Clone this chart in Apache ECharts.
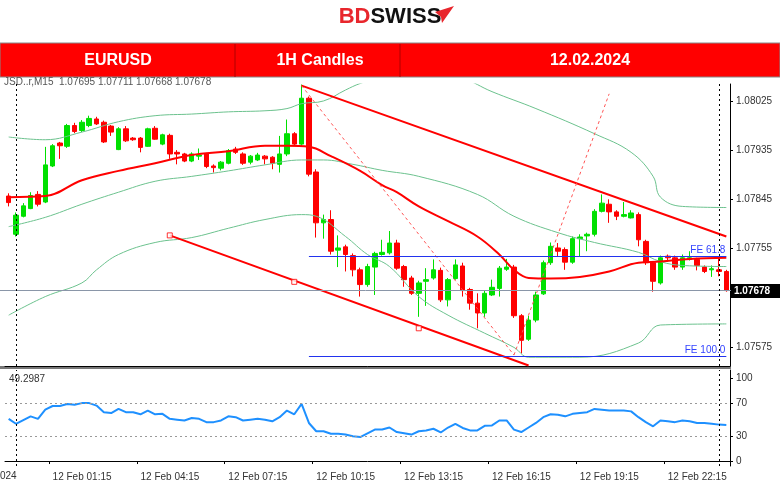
<!DOCTYPE html>
<html>
<head>
<meta charset="utf-8">
<script src="https://cdn.jsdelivr.net/npm/echarts@6/dist/echarts.min.js"></script>
<style>
  html, body { margin: 0; padding: 0; background: #fff; }
  #chart { width: 780px; height: 490px; }
</style>
</head>
<body>
<div id="chart"></div>
<script>
// EURUSD M15, 12 Feb 2024 — bars start 23:45 of the previous day
// [open, close, low, high]
const candles = [
  [1.07851,1.07839,1.07832,1.07856],[1.07781,1.07816,1.07777,1.07821],[1.07814,1.07833,1.07812,1.07838],
  [1.07828,1.07852,1.07827,1.07858],[1.07854,1.07836,1.07832,1.07860],[1.07840,1.07908,1.07838,1.07941],
  [1.07906,1.07943,1.07904,1.07946],[1.07948,1.07943,1.07919,1.07950],[1.07942,1.07980,1.07939,1.07983],
  [1.07980,1.07969,1.07966,1.07985],[1.07971,1.07986,1.07968,1.07990],[1.07980,1.07993,1.07977,1.07998],
  [1.07992,1.07983,1.07981,1.07996],[1.07986,1.07950,1.07948,1.07989],[1.07979,1.07968,1.07961,1.07981],
  [1.07936,1.07974,1.07935,1.07977],[1.07974,1.07952,1.07950,1.07979],[1.07957,1.07954,1.07952,1.07959],
  [1.07957,1.07940,1.07931,1.07959],[1.07942,1.07974,1.07941,1.07976],[1.07975,1.07955,1.07954,1.07979],
  [1.07946,1.07963,1.07944,1.07965],[1.07962,1.07928,1.07919,1.07965],[1.07931,1.07928,1.07909,1.07935],
  [1.07928,1.07915,1.07913,1.07930],[1.07915,1.07928,1.07913,1.07931],[1.07924,1.07926,1.07917,1.07938],
  [1.07928,1.07905,1.07902,1.07930],[1.07906,1.07903,1.07894,1.07909],[1.07902,1.07913,1.07898,1.07915],
  [1.07911,1.07934,1.07909,1.07937],[1.07937,1.07931,1.07928,1.07941],[1.07928,1.07911,1.07908,1.07931],
  [1.07913,1.07924,1.07909,1.07926],[1.07917,1.07926,1.07915,1.07930],[1.07924,1.07919,1.07909,1.07926],
  [1.07922,1.07911,1.07900,1.07924],[1.07909,1.07928,1.07894,1.07961],[1.07928,1.07965,1.07924,1.07991],
  [1.07965,1.07946,1.07943,1.07968],[1.07946,1.08030,1.07943,1.08055],[1.08030,1.07891,1.07887,1.08033],
  [1.07895,1.07802,1.07775,1.07900],[1.07802,1.07808,1.07773,1.07817],[1.07808,1.07750,1.07744,1.07825],
  [1.07752,1.07756,1.07721,1.07779],[1.07758,1.07744,1.07713,1.07762],[1.07742,1.07716,1.07704,1.07746],
  [1.07716,1.07689,1.07667,1.07720],[1.07689,1.07722,1.07685,1.07727],[1.07721,1.07746,1.07670,1.07749],
  [1.07744,1.07748,1.07742,1.07771],[1.07747,1.07765,1.07744,1.07787],[1.07765,1.07719,1.07716,1.07771],
  [1.07722,1.07698,1.07685,1.07725],[1.07701,1.07673,1.07670,1.07705],[1.07673,1.07692,1.07630,1.07696],
  [1.07695,1.07698,1.07650,1.07719],[1.07701,1.07716,1.07698,1.07735],[1.07715,1.07661,1.07657,1.07720],
  [1.07661,1.07698,1.07649,1.07701],[1.07700,1.07725,1.07698,1.07735],[1.07723,1.07678,1.07667,1.07729],
  [1.07680,1.07655,1.07643,1.07683],[1.07655,1.07637,1.07609,1.07673],[1.07637,1.07673,1.07630,1.07678],
  [1.07670,1.07684,1.07668,1.07698],[1.07682,1.07719,1.07667,1.07723],[1.07717,1.07721,1.07714,1.07736],
  [1.07721,1.07632,1.07628,1.07725],[1.07632,1.07587,1.07563,1.07635],[1.07589,1.07624,1.07586,1.07632],
  [1.07624,1.07670,1.07620,1.07676],[1.07672,1.07729,1.07670,1.07733],[1.07729,1.07759,1.07725,1.07766],
  [1.07756,1.07750,1.07741,1.07765],[1.07753,1.07730,1.07716,1.07757],[1.07730,1.07773,1.07727,1.07777],
  [1.07773,1.07776,1.07740,1.07781],[1.07778,1.07781,1.07750,1.07784],[1.07781,1.07823,1.07777,1.07827],
  [1.07823,1.07838,1.07821,1.07854],[1.07836,1.07822,1.07802,1.07845],[1.07822,1.07814,1.07807,1.07825],
  [1.07814,1.07817,1.07812,1.07840],[1.07811,1.07820,1.07810,1.07825],[1.07817,1.07771,1.07759,1.07821],
  [1.07768,1.07729,1.07725,1.07771],[1.07729,1.07695,1.07676,1.07731],[1.07692,1.07738,1.07689,1.07742],
  [1.07741,1.07738,1.07731,1.07744],[1.07738,1.07721,1.07716,1.07742],[1.07721,1.07738,1.07716,1.07744],
  [1.07735,1.07738,1.07733,1.07750],[1.07735,1.07724,1.07715,1.07738],[1.07721,1.07713,1.07710,1.07724],
  [1.07716,1.07718,1.07703,1.07724],[1.07716,1.07713,1.07704,1.07739],[1.07713,1.07678,1.07676,1.07716]
];

// indicator lines: [bar index, price]
const maLine = [[0,1.07849],[5,1.07851],[10,1.07880],[15,1.07897],[20,1.07911],[25,1.07926],[30,1.07933],
  [35,1.07943],[38,1.07943],[41,1.07941],[44,1.07924],[48,1.07897],[51,1.07871],[53,1.07858],[56,1.07832],
  [60,1.07805],[64,1.07777],[67,1.07744],[69,1.07716],[71,1.07701],[74,1.07700],[78,1.07703],[82,1.07713],
  [86,1.07729],[89,1.07731],[93,1.07736],[98,1.07738]];
const bandUpper = [[0,1.07959],[5,1.07954],[10,1.07968],[15,1.07987],[20,1.07998],[25,1.08001],[30,1.08005],
  [35,1.08007],[38,1.08011],[40,1.08020],[43,1.08025],[46,1.08045],[48,1.08057],[51,1.08069],[56,1.08081],
  [62,1.08066],[66,1.08042],[72,1.08011],[80,1.07965],[85,1.07931],[88,1.07887],[89,1.07849],[92,1.07832],[98,1.07830]];
const bandMid = [[0,1.07795],[5,1.07812],[10,1.07836],[15,1.07858],[20,1.07878],[25,1.07887],[30,1.07897],
  [35,1.07908],[40,1.07917],[43,1.07917],[47,1.07909],[51,1.07898],[56,1.07887],[64,1.07854],[69,1.07814],
  [75,1.07784],[80,1.07766],[86,1.07748],[89,1.07731],[92,1.07724],[98,1.07722]];
const bandLower = [[0,1.07633],[5,1.07667],[10,1.07692],[12,1.07716],[15,1.07744],[20,1.07766],[25,1.07775],
  [30,1.07792],[35,1.07808],[40,1.07817],[42,1.07814],[46,1.07777],[49,1.07744],[52,1.07722],[56,1.07667],
  [60,1.07633],[65,1.07600],[69,1.07574],[71,1.07556],[78,1.07556],[86,1.07582],[89,1.07615],[98,1.07617]];

// drawing objects
const channelTop = [[40,1.08053],[98,1.07777]];
const channelBottom = [[22,1.07779],[71,1.07541]];
const channelPoints = [[22,1.07779],[39,1.07694],[56,1.07609]];
const fiboPath1 = [[40,1.08053],[69,1.07560]];
const fiboPath2 = [[69,1.07560],[82,1.08038]];
const fe618 = 1.07740, fe100 = 1.07558, lastPrice = 1.07678;

const rsi = [51,45,49.5,54,51,62,66.5,66.5,69,68,70,70,67,59,58,63,59,59,56.5,61,56.5,57,51,50,49,52,51,47,47,49,
  54,53,49,50,51,50,48,53,61,56.5,69,46,36,36,33,33,32,30,29,33.5,38,38,40.5,35,33.5,32,36,37,39,34.5,
  40.5,45,40,37,37,42.5,43,49,49,38,35,40.5,46,53,56.5,56,54,57,58,59,63,62,61,61,61,60,53,47,42,49,
  48,47,49,48,46,46,45,44,43.5];

const priceTicks = [1.08025, 1.07935, 1.07845, 1.07755, 1.07575];
const rsiTicks = [0, 30, 70, 100];
const tickLabels = {6:'12 Feb 01:15',18:'12 Feb 04:15',30:'12 Feb 07:15',42:'12 Feb 10:15',
  54:'12 Feb 13:15',66:'12 Feb 16:15',78:'12 Feb 19:15',90:'12 Feb 22:15'};

const cats = candles.map((c, i) => String(i));

const chart = echarts.init(document.getElementById('chart'));
const RED = '#ff0000', GREEN = '#00e000', BAND = '#6cc28e';
const dash = { type: [2, 3], color: '#000', width: 1 };

chart.setOption({
  animation: false,
  textStyle: { fontFamily: 'Arial, "Liberation Sans", sans-serif' },
  grid: [
    { left: 5, right: 50, top: 84, height: 282 },
    { left: 5, right: 50, top: 370, height: 96 }
  ],
  graphic: [
    { type: 'text', left: 'center', top: 6, style: { text: '{a|BD}{b|SWISS}', rich: {
      a: { fill: '#e8262c', font: 'bold 22px Arial' }, b: { fill: '#111', font: 'bold 22px Arial' } } } },
    { type: 'polygon', shape: { points: [[435,12],[454,6],[442,23],[441,17]] }, style: { fill: '#e8262c' } },
    { type: 'rect', shape: { x: 0, y: 43, width: 780, height: 34 }, style: { fill: '#ff0000', stroke: '#888', lineWidth: 1 } },
    { type: 'line', shape: { x1: 400, y1: 44, x2: 400, y2: 77 }, style: { stroke: '#b00000', lineWidth: 1 } },
    { type: 'line', shape: { x1: 235, y1: 44, x2: 235, y2: 77 }, style: { stroke: '#b00000', lineWidth: 1 } },
    { type: 'text', x: 118, y: 61, style: { text: 'EURUSD', fill: '#fff', font: 'bold 16px Arial', align: 'center', verticalAlign: 'middle' } },
    { type: 'text', x: 320, y: 61, style: { text: '1H Candles', fill: '#fff', font: 'bold 16px Arial', align: 'center', verticalAlign: 'middle' } },
    { type: 'text', x: 590, y: 61, style: { text: '12.02.2024', fill: '#fff', font: 'bold 16px Arial', align: 'center', verticalAlign: 'middle' } },
    { type: 'text', x: 4, y: 77, style: { text: 'JSD..r,M15  1.07695 1.07711 1.07668 1.07678', fill: '#555', font: '10px Arial' } },
    { type: 'text', x: 9, y: 374, style: { text: '49.2987', fill: '#333', font: '10px Arial' } },
    { type: 'text', x: 0, y: 471, style: { text: '024', fill: '#333', font: '10px Arial' } },
    { type: 'rect', shape: { x: 0, y: 366, width: 731, height: 3 }, style: { fill: '#777' } },
    { type: 'rect', shape: { x: 731, y: 284, width: 49, height: 14 }, style: { fill: '#000' } },
    { type: 'text', x: 734, y: 291, style: { text: '1.07678', fill: '#fff', font: 'bold 10px Arial', verticalAlign: 'middle' } }
  ],
  xAxis: [
    { type: 'category', gridIndex: 0, data: cats, boundaryGap: true,
      axisLine: { lineStyle: { color: '#000' } }, axisTick: { show: false }, axisLabel: { show: false } },
    { type: 'category', gridIndex: 1, data: cats, boundaryGap: true,
      axisLine: { lineStyle: { color: '#000' } },
      axisTick: { show: true, interval: i => tickLabels[i] !== undefined, length: 3, lineStyle: { color: '#000' } },
      axisLabel: { interval: i => tickLabels[i] !== undefined, formatter: (v, i) => tickLabels[i] || '',
        align: 'left', fontSize: 10, color: '#333', margin: 6 } }
  ],
  yAxis: [
    { type: 'value', gridIndex: 0, position: 'right', min: 1.07540, max: 1.08056, scale: true,
      axisLine: { show: true, lineStyle: { color: '#000' } },
      axisTick: { show: true, length: 3, customValues: priceTicks, lineStyle: { color: '#000' } },
      axisLabel: { customValues: priceTicks, fontSize: 10, color: '#333', margin: 6, formatter: v => v.toFixed(5) },
      splitLine: { show: false } },
    { type: 'value', gridIndex: 1, position: 'right', min: -6, max: 110,
      axisLine: { show: true, lineStyle: { color: '#000' } },
      axisTick: { show: true, length: 3, customValues: rsiTicks, lineStyle: { color: '#000' } },
      axisLabel: { customValues: rsiTicks, fontSize: 10, color: '#333', margin: 6 },
      splitLine: { show: false } }
  ],
  series: [
    { type: 'line', data: bandUpper, smooth: 0.4, symbol: 'none', lineStyle: { color: BAND, width: 1 } },
    { type: 'line', data: bandMid, smooth: 0.4, symbol: 'none', lineStyle: { color: BAND, width: 1 } },
    { type: 'line', data: bandLower, smooth: 0.4, symbol: 'none', lineStyle: { color: BAND, width: 1 } },
    { type: 'candlestick', data: candles, barWidth: 5,
      itemStyle: { color: GREEN, color0: RED, borderColor: GREEN, borderColor0: RED, borderWidth: 1 },
      markLine: { silent: true, symbol: 'none', animation: false, data: [
        [{ coord: [41, fe618], lineStyle: { color: '#2233ee', width: 1, type: 'solid' },
           label: { show: true, formatter: 'FE 61.8', position: 'insideEndTop', color: '#3344ff', fontSize: 10, distance: 1 } },
         { coord: [98, fe618] }],
        [{ coord: [41, fe100], lineStyle: { color: '#2233ee', width: 1, type: 'solid' },
           label: { show: true, formatter: 'FE 100.0', position: 'insideEndTop', color: '#3344ff', fontSize: 10, distance: 1 } },
         { coord: [98, fe100] }],
        [{ coord: [0, lastPrice], x: 0, lineStyle: { color: '#8a96a8', width: 1, type: 'solid' }, label: { show: false } },
         { coord: [98, lastPrice], x: 731 }],
        { xAxis: 1, lineStyle: dash, label: { show: false } },
        { xAxis: 97, lineStyle: dash, label: { show: false } }
      ] } },
    { type: 'line', data: maLine, smooth: 0.4, symbol: 'none', lineStyle: { color: RED, width: 2 }, z: 3 },
    { type: 'line', data: channelTop, symbol: 'none', lineStyle: { color: RED, width: 2 }, z: 4 },
    { type: 'line', data: channelBottom, symbol: 'none', lineStyle: { color: RED, width: 2 }, z: 4 },
    { type: 'scatter', data: channelPoints, symbol: 'rect', symbolSize: 5,
      itemStyle: { color: '#fff', borderColor: RED, borderWidth: 1 }, z: 5 },
    { type: 'line', data: fiboPath1, symbol: 'none', lineStyle: { color: '#ff5555', width: 1, type: [3, 3] }, z: 4 },
    { type: 'line', data: fiboPath2, symbol: 'none', lineStyle: { color: '#ff5555', width: 1, type: [3, 3] }, z: 4 },
    { type: 'line', xAxisIndex: 1, yAxisIndex: 1, data: rsi, symbol: 'none',
      lineStyle: { color: '#1e90ff', width: 2 },
      markLine: { silent: true, symbol: 'none', label: { show: false }, data: [
        { yAxis: 70, lineStyle: { color: '#999', type: [2, 3], width: 1 } },
        { yAxis: 30, lineStyle: { color: '#999', type: [2, 3], width: 1 } },
        { xAxis: 1, lineStyle: dash },
        { xAxis: 97, lineStyle: dash }
      ] } }
  ]
});
</script>
</body>
</html>
